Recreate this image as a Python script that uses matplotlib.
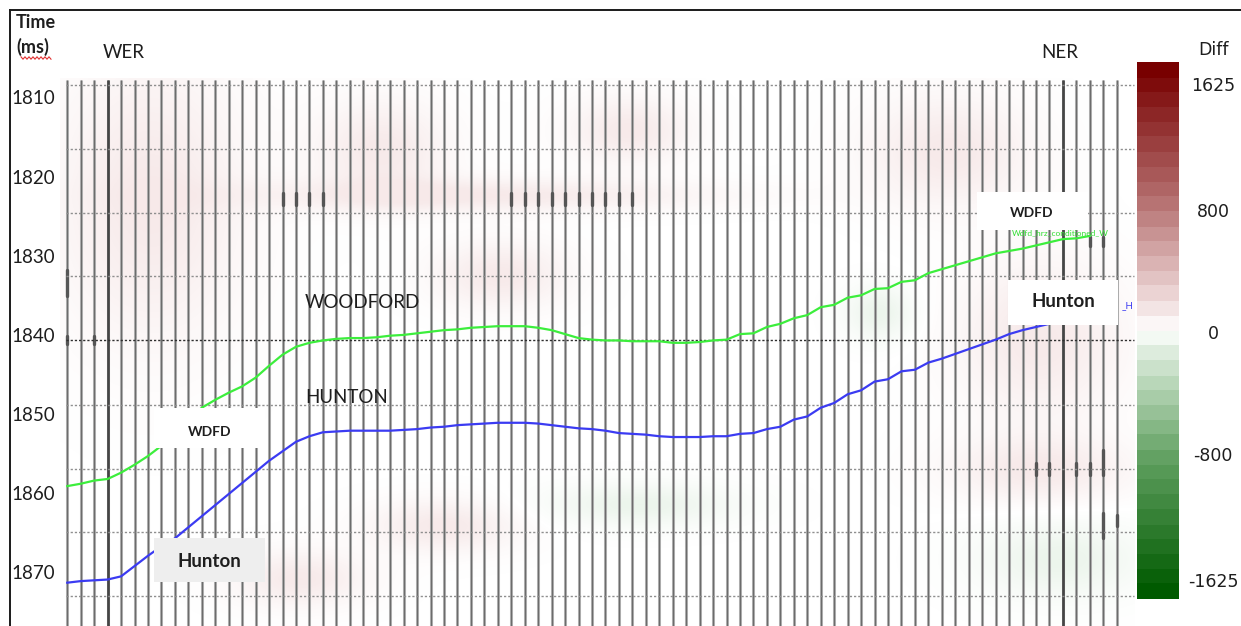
import numpy as np
import matplotlib
matplotlib.use("Agg")
import matplotlib.pyplot as plt
from matplotlib.patches import Rectangle
from matplotlib.colors import LinearSegmentedColormap
from matplotlib.lines import Line2D

# ---------------- data ----------------
n_traces = 79
wer_trace = 3
ner_trace = 74

# horizon picks (two-way time, ms), one value per trace starting at trace 0
wdfd_ms = [1858.9, 1858.6, 1858.2, 1858.0, 1857.2, 1856.2, 1855.1, 1853.8, 1852.2, 1850.5,
           1849.0, 1848.0, 1847.1, 1846.3, 1845.2, 1843.7, 1842.3, 1841.3, 1840.8, 1840.5,
           1840.3, 1840.2, 1840.2, 1840.1, 1839.9, 1839.8, 1839.6, 1839.4, 1839.2, 1839.1,
           1838.9, 1838.8, 1838.7, 1838.7, 1838.7, 1838.9, 1839.2, 1839.7, 1840.2, 1840.4,
           1840.5, 1840.5, 1840.6, 1840.6, 1840.6, 1840.8, 1840.8, 1840.7, 1840.5, 1840.4,
           1839.7, 1839.6, 1838.8, 1838.4, 1837.7, 1837.3, 1836.3, 1836.0, 1835.1, 1834.8,
           1834.0, 1833.9, 1833.1, 1832.9, 1832.0, 1831.5, 1831.0, 1830.5, 1830.0, 1829.5,
           1829.2, 1828.9, 1828.5, 1828.1, 1827.7, 1827.6, 1827.3]

hunton_ms = [1871.1, 1870.9, 1870.8, 1870.7, 1870.3, 1869.0, 1867.7, 1866.5, 1865.5, 1864.1,
             1862.7, 1861.3, 1859.9, 1858.5, 1857.1, 1855.7, 1854.5, 1853.3, 1852.6, 1852.1,
             1852.0, 1851.9, 1851.9, 1851.9, 1851.9, 1851.8, 1851.7, 1851.5, 1851.4, 1851.2,
             1851.1, 1851.0, 1850.9, 1850.9, 1850.9, 1851.0, 1851.2, 1851.4, 1851.6, 1851.7,
             1851.9, 1852.2, 1852.3, 1852.4, 1852.6, 1852.7, 1852.7, 1852.7, 1852.6, 1852.6,
             1852.3, 1852.2, 1851.7, 1851.4, 1850.5, 1850.1, 1849.0, 1848.4, 1847.3, 1846.8,
             1845.7, 1845.4, 1844.4, 1844.2, 1843.3, 1842.8, 1842.2, 1841.6, 1841.0, 1840.4,
             1839.7, 1839.2, 1838.8, 1838.4, 1838.0, 1837.7, 1837.3]

time_ticks = [1810, 1820, 1830, 1840, 1850, 1860, 1870]
grid_ms = [1808.2, 1816.3, 1824.4, 1832.4, 1840.5, 1848.6, 1856.7, 1864.7, 1872.8]

diff_ticks = [1625, 800, 0, -800, -1625]

# short dark amplitude marks on traces: (trace, start ms, end ms)
amp_marks = [(16, 1821.9, 1823.4), (17, 1821.9, 1823.4), (18, 1821.9, 1823.4), (19, 1821.9, 1823.4),
             (33, 1821.9, 1823.4), (34, 1821.9, 1823.4), (35, 1821.9, 1823.4), (36, 1821.9, 1823.4),
             (37, 1821.9, 1823.4), (38, 1821.9, 1823.4), (39, 1821.9, 1823.4), (40, 1821.9, 1823.4),
             (41, 1821.9, 1823.4), (42, 1821.9, 1823.4),
             (72, 1856.0, 1857.5), (73, 1856.0, 1857.5), (75, 1856.0, 1857.5), (76, 1856.0, 1857.5),
             (77, 1854.3, 1857.5), (77, 1862.3, 1865.5), (78, 1862.5, 1864.0),
             (0, 1831.6, 1834.9), (0, 1840.0, 1841.0), (2, 1840.0, 1841.0),
             (76, 1827.4, 1828.6), (77, 1827.4, 1828.6)]

# faint difference-amplitude patches: (trace, ms, width traces, height ms, sign)
diff_patches = [(6.2, 1822.8, 12.6, 31.6, 1), (23.3, 1816.4, 8.9, 11.4, 1),
                (30.7, 1822.1, 31.0, 3.8, 1), (32.2, 1832.2, 8.9, 7.6, 1),
                (65.6, 1816.5, 11.1, 12.6, 1), (72.3, 1840.4, 11.0, 17.7, 1),
                (72.3, 1856.9, 11.9, 7.6, 1), (42.6, 1861.3, 12.6, 5.0, -1),
                (73.8, 1868.2, 11.0, 8.8, -1), (17.3, 1870.7, 9.0, 6.3, 1),
                (41.8, 1813.9, 8.2, 7.6, 1), (60.4, 1837.0, 4.5, 6.3, -1),
                (28.0, 1864.0, 10.0, 6.0, 1)]

# ---------------- figure ----------------
W, H = 1241, 626
fig = plt.figure(figsize=(W / 100, H / 100), dpi=100)
fig.patch.set_facecolor('white')

NARROW = ['Liberation Sans Narrow', 'Lato', 'DejaVu Sans']
WIDE = ['DejaVu Sans']
TXT = '#1e1e1e'


def frac(x0, y0, x1, y1):
    return [x0 / W, 1 - y1 / H, (x1 - x0) / W, (y1 - y0) / H]


ax = fig.add_axes(frac(60, 78, 1135, 626))
x_lo, x_hi = -0.54, 79.36
t_top, t_bot = 1807.35, 1876.57
ax.set_xlim(x_lo, x_hi)
ax.set_ylim(t_bot, t_top)
for sp in ax.spines.values():
    sp.set_visible(False)
ax.set_xticks([])
ax.set_yticks([])
ax.set_facecolor('none')

traces = np.arange(n_traces)

# soft background difference field built from the patch list
gx = np.linspace(x_lo, x_hi, 500)
gt = np.linspace(t_top, t_bot, 300)
XX, TT = np.meshgrid(gx, gt)
field = np.zeros_like(XX)
for tx, tm, tw, th, sgn in diff_patches:
    field += sgn * np.exp(-((XX - tx) / (0.55 * tw)) ** 2 - ((TT - tm) / (0.55 * th)) ** 2)
field = np.clip(field, -1, 1)
rgba = np.zeros(field.shape + (4,))
pos = field > 0
rgba[..., 0] = np.where(pos, 0.86, 0.66)
rgba[..., 1] = np.where(pos, 0.62, 0.82)
rgba[..., 2] = np.where(pos, 0.62, 0.66)
rgba[..., 3] = 0.22 * np.abs(field)
ax.imshow(rgba, extent=[x_lo, x_hi, t_bot, t_top], origin='upper', aspect='auto',
          interpolation='bilinear', zorder=1)

# wiggle traces
top_ms = 1807.6
ax.vlines(traces, top_ms, 1880, colors='#bcbcbc', lw=2.2, zorder=2)
ax.vlines(traces, top_ms, 1880, colors='#6c6c6c', lw=1.0, zorder=2.1)
ax.vlines([wer_trace, ner_trace], top_ms, 1880, colors='#454545', lw=1.9, zorder=2.2)

# amplitude marks
for tr, a, b in amp_marks:
    ax.plot([tr, tr], [a, b], color='#555555', lw=2.4, solid_capstyle='round', zorder=2.5)

# dotted time lines
for g in grid_ms:
    col = '#2e2e2e' if abs(g - 1840.5) < 0.2 else '#8f8f8f'
    ax.plot([-0.1, 79.3], [g, g], color=col, lw=1.0, dashes=(1.6, 1.4), zorder=3)

# horizons
ax.plot(np.arange(len(wdfd_ms)), wdfd_ms, color='#3cee3c', lw=1.6, zorder=5)
ax.plot(np.arange(len(hunton_ms)), hunton_ms, color='#3b3bf2', lw=1.6, zorder=5)

# tiny horizon name tags at right end
ax.text(70.2, 1826.9, 'Wdfd_hrz_conditioned_W', fontsize=6, color='#33dd33',
        family=NARROW, va='center', ha='left', zorder=5.5, clip_on=False)
ax.text(78.4, 1836.1, '_H', fontsize=7, color='#3b3bf2', family=NARROW,
        va='center', ha='left', zorder=5.5, clip_on=False)

# label boxes
boxes = [((6.46, 1849.03), 8.23, 5.05, 'white', 'WDFD', (10.57, 1852.06), 10),
         ((6.46, 1865.45), 8.23, 5.55, '#eeeeee', 'Hunton', (10.57, 1868.48), 13.5),
         ((67.62, 1821.75), 8.24, 4.8, 'white', 'WDFD', (71.7, 1824.4), 10),
         ((69.9, 1832.86), 8.2, 5.69, 'white', 'Hunton', (74.01, 1835.64), 13.5)]
for (bx, by), bw, bh, fc, label, (lx, ly), fs in boxes:
    ax.add_patch(Rectangle((bx, by), bw, bh, facecolor=fc, edgecolor='none', zorder=6))
    ax.text(lx, ly, label, fontsize=fs, fontweight='bold', color=TXT, family=NARROW,
            ha='center', va='center', zorder=7)

# formation names
ax.text(17.67, 1835.77, 'WOODFORD', fontsize=13.5, color=TXT, family=NARROW,
        ha='left', va='center', zorder=7)
ax.text(17.67, 1847.77, 'HUNTON', fontsize=13.5, color=TXT, family=NARROW,
        ha='left', va='center', zorder=7)

# time labels
for t in time_ticks:
    ax.annotate(str(t), xy=(0, t), xycoords=('axes fraction', 'data'),
                xytext=(-3.6, 0), textcoords='offset points', ha='right', va='center',
                fontsize=13.5, color=TXT, family=NARROW, annotation_clip=False)

# header texts
fig.text(16 / W, 1 - 22 / H, 'Time', fontsize=13, fontweight='bold', color=TXT,
         family=NARROW, ha='left', va='center')
fig.text(16 / W, 1 - 47 / H, '(ms)', fontsize=13, fontweight='bold', color=TXT,
         family=NARROW, ha='left', va='center')
fig.text(124 / W, 1 - 52 / H, 'WER', fontsize=13.5, color=TXT, family=NARROW,
         ha='center', va='center')
fig.text(1060 / W, 1 - 52 / H, 'NER', fontsize=13.5, color=TXT, family=NARROW,
         ha='center', va='center')

# spell-check squiggle under "ms"
sx = np.arange(21, 52, 2.0)
sy = 58 + np.where(np.arange(len(sx)) % 2 == 0, -1.2, 1.2)
fig.add_artist(Line2D(sx / W, 1 - sy / H, transform=fig.transFigure,
                      color='#e03030', lw=0.8))

# outer frame
fig.add_artist(Line2D([10 / W, 1.0], [1 - 10 / H, 1 - 10 / H], transform=fig.transFigure,
                      color='#1a1a1a', lw=1.4))
fig.add_artist(Line2D([10 / W, 10 / W], [1 - 10 / H, 0.0], transform=fig.transFigure,
                      color='#1a1a1a', lw=1.4))

# colour bar
cmap = LinearSegmentedColormap.from_list(
    'diff', [(0.0, '#005a00'), (0.25, '#5f9f5f'), (0.45, '#d8ead8'), (0.5, '#ffffff'),
             (0.55, '#f2e0e0'), (0.75, '#b56f6f'), (1.0, '#780000')], N=36)
lim = 1760
cax = fig.add_axes(frac(1137, 62, 1179, 599))
grad = np.linspace(-lim, lim, 512).reshape(-1, 1)
cax.imshow(grad, cmap=cmap, aspect='auto', origin='lower', extent=[0, 1, -lim, lim],
           vmin=-lim, vmax=lim, interpolation='nearest')
cax.set_xlim(0, 1)
cax.set_ylim(-lim, lim)
cax.set_xticks([])
cax.set_yticks([])
for sp in cax.spines.values():
    sp.set_visible(False)
for v in diff_ticks:
    cax.annotate(str(v), xy=(1, v), xycoords=('axes fraction', 'data'),
                 xytext=(24.5, -2.5), textcoords='offset points', ha='center', va='center',
                 fontsize=12.5, color=TXT, family=WIDE, annotation_clip=False)
fig.text(1213 / W, 1 - 50 / H, 'Diff', fontsize=12.5, color=TXT, family=WIDE,
         ha='center', va='center')

fig.savefig('out.png', dpi=100)
